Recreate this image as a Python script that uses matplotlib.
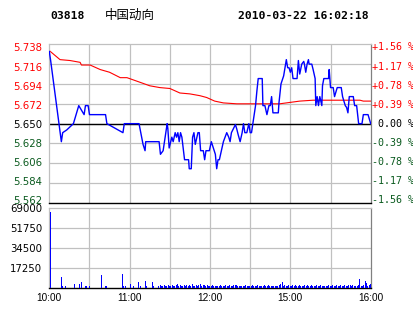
import numpy as np
import matplotlib
matplotlib.use("Agg")
import matplotlib.pyplot as plt
from matplotlib.transforms import ScaledTranslation

W, H = 414, 314

code = "03818"
name = "中国动向"
stamp = "2010-03-22 16:02:18"

prev_close = 5.650
price_ticks = [5.562, 5.584, 5.606, 5.628, 5.650, 5.672, 5.694, 5.716, 5.738]
pct_labels = ["-1.56 %", "-1.17 %", "-0.78 %", "-0.39 %", " 0.00 %",
              "+0.39 %", "+0.78 %", "+1.17 %", "+1.56 %"]
vol_ticks = [17250, 34500, 51750, 69000]
time_pos = [0, 60, 120, 180, 240]
time_labels = ["10:00", "11:00", "12:00", "15:00", "16:00"]

# (minute, price) vertices of the price line
price_pts = [
    (0, 5.73), (1, 5.72), (9, 5.63), (10, 5.64), (13, 5.643), (18, 5.65),
    (22, 5.67), (26, 5.66), (27, 5.67), (29, 5.67), (30, 5.66), (42, 5.66),
    (43, 5.65), (55, 5.64), (56, 5.65), (67, 5.65), (70, 5.627), (71.5, 5.62),
    (72, 5.63), (82, 5.63), (83, 5.616), (85, 5.62), (88, 5.65), (88.5, 5.645),
    (89.5, 5.623), (91.5, 5.635), (92.5, 5.63), (94, 5.64), (95, 5.635),
    (96, 5.64), (97, 5.63), (98, 5.64), (99, 5.635), (100, 5.623), (101, 5.61),
    (104, 5.61), (104.5, 5.60), (106, 5.60), (107, 5.635), (108, 5.64),
    (109, 5.627), (111, 5.64), (112, 5.64), (113, 5.62), (115, 5.62),
    (116, 5.61), (117, 5.62), (119.5, 5.62), (121, 5.63), (122.5, 5.623),
    (124, 5.616), (125, 5.60), (126, 5.61), (127, 5.61), (129, 5.623),
    (130, 5.63), (132.5, 5.64), (134, 5.635), (135, 5.63), (136, 5.64),
    (139, 5.649), (140, 5.644), (141, 5.638), (142.5, 5.63), (144, 5.64),
    (145, 5.65), (146, 5.64), (147.5, 5.64), (149, 5.65), (150, 5.64),
    (151, 5.64), (152, 5.65), (154, 5.67), (155, 5.686), (156, 5.70),
    (159, 5.70), (159.5, 5.67), (161, 5.67), (162.5, 5.66), (164, 5.67),
    (165, 5.67), (166, 5.68), (167, 5.662), (171, 5.662), (171.5, 5.673),
    (173, 5.694), (175, 5.703), (177, 5.721), (178, 5.712), (179, 5.712),
    (180, 5.707), (181, 5.712), (182, 5.70), (185, 5.70), (186, 5.72),
    (187, 5.705), (188.5, 5.716), (190, 5.719), (190.5, 5.716), (191.5, 5.707),
    (192.5, 5.716), (193.5, 5.721), (194, 5.716), (196, 5.716), (197, 5.71),
    (198.5, 5.70), (199, 5.67), (200, 5.68), (201, 5.67), (202, 5.68),
    (203.5, 5.67), (204, 5.692), (205, 5.70), (208.5, 5.70), (209, 5.71),
    (210, 5.69), (212, 5.69), (213, 5.68), (215, 5.69), (218, 5.69),
    (219, 5.68), (221, 5.67), (222, 5.668), (223, 5.662), (224, 5.68),
    (227, 5.68), (228, 5.67), (229.5, 5.67), (231, 5.65), (233.5, 5.65),
    (234.5, 5.66), (238, 5.66), (240, 5.65),
]

# (minute, price) vertices of the average line
avg_pts = [
    (0, 5.731), (8, 5.721), (15.5, 5.720), (23, 5.718), (24, 5.715),
    (30.5, 5.715), (38, 5.710), (45, 5.707), (53, 5.701), (58, 5.701),
    (67.5, 5.696), (75, 5.692), (82.5, 5.690), (90, 5.689), (97.5, 5.684),
    (105, 5.683), (112.5, 5.681), (117.5, 5.679), (123.5, 5.675), (130, 5.673),
    (140, 5.672), (172, 5.672), (177, 5.673), (182, 5.674), (187, 5.675),
    (197, 5.676), (232, 5.676), (234.5, 5.675), (240, 5.675),
]

# volume per minute, 0..240
volume = [
    66000, 0, 0, 0, 0, 0, 0, 0, 9600, 1500, 0, 1500, 0, 0, 0, 0, 0, 0, 3200, 0,
    0, 0, 3200, 5000, 0, 0, 1500, 1500, 0, 1500, 0, 0, 0, 0, 0, 0, 0, 0, 11000, 0,
    0, 1500, 1500, 0, 0, 0, 0, 0, 0, 0, 0, 0, 0, 0, 11900, 1500, 1500, 0, 0, 0,
    3200, 0, 1800, 0, 0, 0, 5000, 1500, 0, 0, 0, 5800, 1500, 0, 0, 0, 5000, 1500, 0, 0,
    0, 1500, 2200, 1500, 1800, 2300, 1500, 1500, 2000, 1500, 1800, 2600, 1500, 1500, 2200, 3000, 1500, 2100, 1500, 1800,
    2500, 1500, 2200, 1600, 2400, 1500, 2800, 1700, 1500, 2300, 1500, 2500, 3000, 1500, 2700, 2200, 1500, 2500, 1800, 1500,
    1500, 2000, 1500, 1500, 1700, 1500, 1500, 2000, 1500, 1500, 1700, 2200, 1500, 1600, 2000, 1500, 1500, 2300, 2300, 2300,
    1500, 1500, 1600, 1500, 1500, 1700, 2200, 1500, 1800, 1500, 1500, 2000, 1500, 1600, 1500, 2200, 1500, 1500, 1800, 1500,
    2000, 1500, 1500, 2200, 1500, 1700, 1500, 1500, 1600, 1500, 1500, 2500, 3000, 5200, 1500, 2200, 1500, 1800, 2500, 1500,
    1500, 2000, 1500, 2400, 1500, 1600, 2500, 1500, 1500, 1800, 2000, 1500, 2600, 1500, 1500, 2200, 1500, 1700, 1500, 2000,
    1500, 1500, 2300, 1800, 1500, 1500, 1900, 1500, 2400, 1500, 1500, 2200, 1500, 1600, 2600, 1500, 1500, 2000, 1500, 1800,
    2500, 1500, 1500, 2000, 2500, 1500, 2200, 1500, 1500, 1800, 2000, 7600, 1500, 1500, 2200, 5800, 4200, 1500, 2000, 3200,
    3500,
]

RED = "#ff0000"
GREEN = "#0a5a1e"
GRID = "#c0c0c0"


def px(x0, y0, x1, y1):
    # pixel box -> figure rect
    return [x0 / W, 1 - y1 / H, (x1 - x0) / W, (y1 - y0) / H]


def shift(artist, dy_px):
    artist.set_transform(artist.get_transform()
                         + ScaledTranslation(0, dy_px / 100, fig.dpi_scale_trans))


def level_color(t):
    if t > prev_close:
        return RED
    if t == prev_close:
        return "black"
    return GREEN


fig = plt.figure(figsize=(W / 100, H / 100), dpi=100, facecolor="white")
ax = fig.add_axes(px(49.3, 44.3, 370.7, 203))
axv = fig.add_axes(px(49.3, 208.3, 370.7, 287.7))

grid_x = np.arange(0, 241, 30)

# price panel
ax.set_xlim(0, 240)
ax.set_ylim(price_ticks[0], price_ticks[-1])
for gx in grid_x[1:-1]:
    ax.axvline(gx, color=GRID, lw=0.9, zorder=0)
for gy in price_ticks[1:-1]:
    ax.axhline(gy, color=GRID, lw=0.9, zorder=0)
ax.axhline(prev_close, color="black", lw=1.0, zorder=1)

pm, pv = zip(*price_pts)
am, av = zip(*avg_pts)
ax.plot(am, av, color=RED, lw=0.8, zorder=2)
ax.plot(pm, pv, color="#0000ff", lw=1.0, zorder=3)

ax.set_xticks([])
ax.set_yticks(price_ticks)
ax.set_yticklabels([f"{t:.3f}" for t in price_ticks], fontsize=7.3,
                   family="DejaVu Sans")
ax.tick_params(axis="y", length=0, pad=5)
for i, (lab, t) in enumerate(zip(ax.get_yticklabels(), price_ticks)):
    lab.set_color(level_color(t))
    shift(lab, -(i - 4) * 0.8)

for i, (t, s) in enumerate(zip(price_ticks, pct_labels)):
    txt = ax.text(1.003, (t - price_ticks[0]) / (price_ticks[-1] - price_ticks[0]), s,
                  transform=ax.transAxes, ha="left", va="center",
                  color=level_color(t), fontsize=7.2, family="DejaVu Sans Mono")
    shift(txt, -(i - 4) * 0.8)

for side in ["top", "left"]:
    ax.spines[side].set_color(GRID)
    ax.spines[side].set_linewidth(0.9)
ax.spines["right"].set_color("#808080")
ax.spines["right"].set_linewidth(0.9)
ax.spines["bottom"].set_color("black")
ax.spines["bottom"].set_linewidth(1.0)

# volume panel
axv.set_xlim(0, 240)
axv.set_ylim(0, vol_ticks[-1])
for gx in grid_x[1:-1]:
    axv.axvline(gx, color=GRID, lw=0.9, zorder=0)
for gy in vol_ticks[:-1]:
    axv.axhline(gy, color=GRID, lw=0.9, zorder=0)
mins = np.arange(len(volume))
axv.vlines(mins + 0.4, 0, volume, color="#0000ff", lw=0.72, antialiased=False,
           zorder=3)

axv.set_yticks(vol_ticks)
axv.set_yticklabels([str(v) for v in vol_ticks], fontsize=7.3,
                    family="DejaVu Sans")
for i, lab in enumerate(axv.get_yticklabels()):
    shift(lab, -(1.9 + 0.9 * i))
axv.set_xticks(time_pos)
axv.set_xticklabels(time_labels, fontsize=7.2, family="Liberation Sans")
axv.tick_params(length=0, pad=4)
axv.tick_params(axis="y", pad=5)
for side in ["top", "left"]:
    axv.spines[side].set_color(GRID)
    axv.spines[side].set_linewidth(0.9)
axv.spines["right"].set_color("#808080")
axv.spines["right"].set_linewidth(0.9)
axv.spines["bottom"].set_color("black")
axv.spines["bottom"].set_linewidth(1.0)

# header
fig.text(50 / W, 1 - 16 / H, code, fontsize=8.2, weight="bold",
         family="DejaVu Sans Mono", va="center", ha="left")
fig.text(105 / W, 1 - 15.5 / H, name, fontsize=9, family=["Noto Sans CJK SC"],
         va="center", ha="left")
fig.text(238 / W, 1 - 16 / H, stamp, fontsize=8.2, weight="bold",
         family="DejaVu Sans Mono", va="center", ha="left")

fig.savefig("out.png", dpi=100, facecolor="white")
